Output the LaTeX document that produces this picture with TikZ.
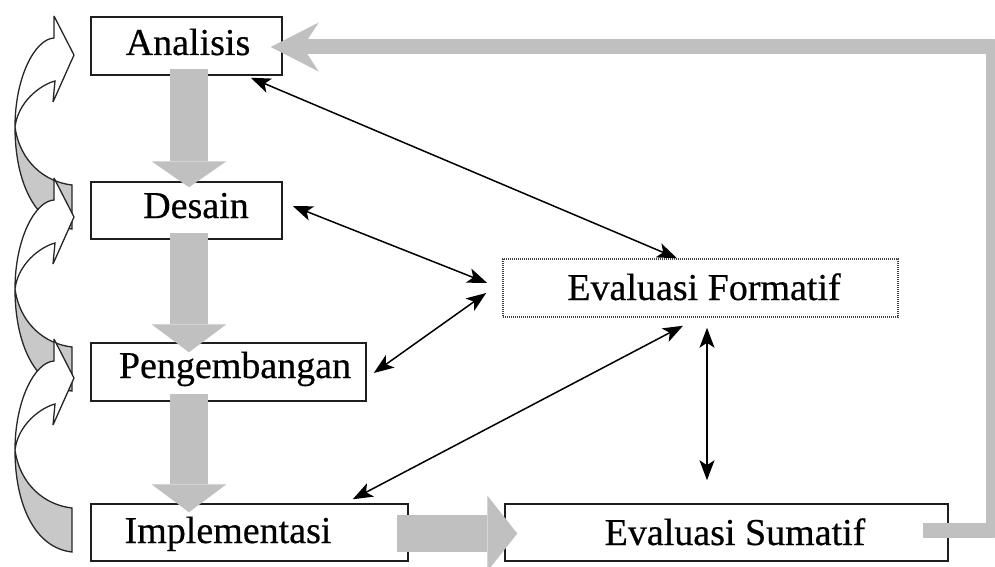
\documentclass[tikz,border=0pt]{standalone}
\usepackage{fontspec}
\setmainfont{Liberation Serif}
\newfontfamily\lblfont{Liberation Serif}[FakeBold=0.5]
\usetikzlibrary{arrows.meta,calc}
\definecolor{biggray}{RGB}{192,192,192}
\definecolor{curlgray}{RGB}{200,200,200}
\definecolor{boxline}{RGB}{30,30,30}
\tikzset{
  box/.style={draw=boxline, line width=1.5pt, fill=white, inner sep=0pt},
  fmtbox/.style={draw=black!75, line width=1.5pt, dash pattern=on 1.2pt off 0.8pt, inner sep=0pt},
  lbl/.style={font=\lblfont\fontsize{38}{40}\selectfont, anchor=base, inner sep=0pt},
  thinarrow/.style={line width=1.5pt, {Stealth[length=20pt,width=15pt,inset=5pt]}-{Stealth[length=20pt,width=15pt,inset=5pt]}},
  bigarrow/.style={line width=#1, color=biggray},
  curl/.pic={
    \path[draw=black!85, line width=1.3pt, fill=curlgray]
      (0,0) .. controls (0,55) and (20,98) .. (57,102) -- (57,58)
      .. controls (30,55) and (5,35) .. (0,0) -- cycle;
    \path[draw=black!85, line width=1.3pt, fill=white, miter limit=4]
      (0,0) .. controls (0,-50) and (20,-88) .. (39,-89) -- (39,-111) -- (59,-72)
      -- (38,-25) -- (40,-46) .. controls (25,-42) and (3,-25) .. (0,0) -- cycle;
  }
}
\begin{document}
\begin{tikzpicture}[x=1pt,y=-1pt]
\fill[white] (0,0) rectangle (995,567);
\useasboundingbox (0,0) rectangle (995,567);

% curved arrows on the left
\pic (c1) at (15,127) {curl};
\pic (c2) at (15,289) {curl};
\pic (c3) at (15,450) {curl};

% boxes
\node[box, minimum width=191pt, minimum height=58pt] (ana) at (186.5,46) {};
\node[box, minimum width=191pt, minimum height=57pt] (des) at (186.5,210.5) {};
\node[box, minimum width=275pt, minimum height=58pt] (pen) at (228.5,372) {};
\node[box, minimum width=317pt, minimum height=57pt] (imp) at (249.5,532.5) {};
\node[fmtbox, minimum width=395pt, minimum height=58pt] (fmt) at (700.5,288) {};
\node[box, minimum width=443pt, minimum height=57pt] (sum) at (726.5,532.5) {};

% labels
\node[lbl] (anat) at (188,55) {Analisis};
\node[lbl] (dest) at (196,218) {Desain};
\node[lbl] (pent) at (235,378) {Pengembangan};
\node[lbl] (impt) at (228,543) {Implementasi};
\node[lbl] (fmtt) at (704,300) {Evaluasi Formatif};
\node[lbl] (sumt) at (735,545) {Evaluasi Sumatif};

% thick gray flow arrows
\draw[bigarrow=38pt, -{Triangle[length=26pt,width=75pt,line width=0pt]}]
  ($(ana.south)+(2.5,-7)$) -- ($(des.north)+(2.5,6)$);
\draw[bigarrow=38pt, -{Triangle[length=28pt,width=75pt,line width=0pt]}]
  ($(des.south)+(2.5,-7)$) -- ($(pen.north)+(-39.5,10)$);
\draw[bigarrow=38pt, -{Triangle[length=28pt,width=75pt,line width=0pt]}]
  ($(pen.south)+(-39.5,-8)$) -- ($(imp.north)+(-60.5,9)$);
\draw[bigarrow=37pt, -{Triangle[length=30pt,width=76pt,line width=0pt]}]
  ($(imp.east)+(-12,1)$) -- ($(sum.west)+(13,1)$);

% feedback line
\coordinate (rc) at (993,47);
\draw[bigarrow=15pt, line join=round, -{Stealth[length=48pt,width=49pt,inset=16pt,line width=0pt]}]
  ($(sum.east)+(-26,-2.5)$) -| (rc) -- ($(ana.east)+(-12,1)$);

% thin double arrows
\draw[thinarrow] ($(ana.south east)+(-32,2)$) -- ($(fmt.north)+(-23.5,0)$);
\draw[thinarrow] ($(des.east)+(10,-4.5)$) -- ($(fmt.west)+(-15,-5)$);
\draw[thinarrow] ($(pen.east)+(7,1)$) -- ($(fmt.west)+(-16,5)$);
\draw[thinarrow] ($(imp.north east)+(-56,-4)$) -- ($(fmt.south)+(-17.5,8)$);
\draw[thinarrow] ($(fmt.south)+(6.5,10)$) -- ($(sum.north)+(-19.5,-23)$);
\end{tikzpicture}
\end{document}
